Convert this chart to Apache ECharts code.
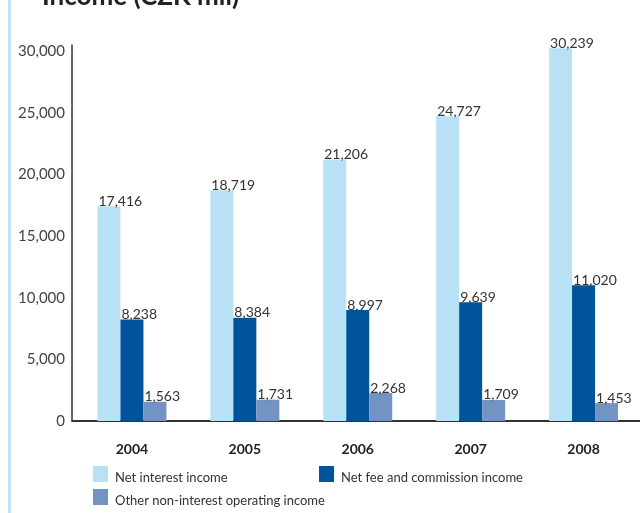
<!DOCTYPE html>
<html>
<head>
<meta charset="utf-8">
<style>
  html, body { margin: 0; padding: 0; background: #ffffff; }
  #chart { width: 640px; height: 513px; }
</style>
<script src="https://cdn.jsdelivr.net/npm/echarts@6/dist/echarts.min.js"></script>
</head>
<body>
<div id="chart"></div>
<script>
// Income breakdown, CZK million
const years = ['2004', '2005', '2006', '2007', '2008'];
const netInterestIncome = [17416, 18719, 21206, 24727, 30239];
const netFeeCommissionIncome = [8238, 8384, 8997, 9639, 11020];
const otherNonInterestIncome = [1563, 1731, 2268, 1709, 1453];
const seriesNames = ['Net interest income', 'Net fee and commission income', 'Other non-interest operating income'];
const yTicks = [0, 5000, 10000, 15000, 20000, 25000, 30000];

const FONT = 'Lato, "Liberation Sans", sans-serif';
const COLORS = ['#b9e1f6', '#00559a', '#7394c2'];

const fmt = v => Number(v).toLocaleString('en-US');

const chart = echarts.init(document.getElementById('chart'), null, { renderer: 'canvas' });

function barSeries(name, data, color) {
  return {
    name: name,
    type: 'bar',
    data: data,
    barWidth: 23,
    barGap: '0%',
    itemStyle: { color: color },
    label: {
      show: true,
      position: [1, 2],
      align: 'left',
      verticalAlign: 'bottom',
      fontFamily: FONT,
      fontSize: 14,
      color: '#333333',
      formatter: p => fmt(p.value)
    }
  };
}

function legendItem(name, left, top) {
  return {
    data: [{ name: name, icon: 'rect' }],
    left: left,
    top: top,
    padding: 0,
    itemWidth: 15,
    itemHeight: 16,
    itemGap: 0,
    formatter: n => '{t|' + n + '}',
    textStyle: {
      fontFamily: FONT,
      fontSize: 13,
      color: '#333333',
      rich: {
        t: { fontFamily: FONT, fontSize: 13, color: '#333333', padding: [8, 0, 0, 2] }
      }
    },
    selectedMode: false
  };
}

const option = {
  animation: false,
  title: {
    text: 'Income (CZK mil)',
    left: 42,
    top: -16,
    padding: 0,
    textStyle: { fontFamily: FONT, fontSize: 26, fontWeight: 'bold', color: '#222222' }
  },
  legend: [
    legendItem(seriesNames[0], 93, 466),
    legendItem(seriesNames[1], 319, 466),
    legendItem(seriesNames[2], 93, 489)
  ],
  grid: { left: 75.5, width: 570, top: 45, bottom: 92, containLabel: false },
  xAxis: {
    type: 'category',
    data: years,
    axisLine: { show: true, lineStyle: { color: '#333333', width: 2 } },
    axisTick: { show: false },
    axisLabel: {
      margin: 21,
      fontFamily: FONT,
      fontSize: 14,
      fontWeight: 'bold',
      color: '#222222'
    }
  },
  yAxis: {
    type: 'value',
    min: 0,
    max: 30500,
    interval: 5000,
    offset: 3.5,
    splitLine: { show: false },
    axisTick: { show: false },
    axisLine: { show: true, lineStyle: { color: '#333333', width: 1.5 } },
    axisLabel: {
      margin: 7,
      fontFamily: FONT,
      fontSize: 15,
      color: '#444444',
      padding: [0, 0, 6, 0],
      formatter: v => (yTicks.indexOf(v) >= 0 ? fmt(v) : '')
    }
  },
  graphic: [
    {
      type: 'rect',
      shape: { x: 8, y: 0, width: 3, height: 513 },
      style: { fill: '#bfe3f7' },
      silent: true
    },
    {
      type: 'line',
      shape: { x1: 71.5, y1: 421, x2: 76, y2: 421 },
      style: { stroke: '#333333', lineWidth: 2 },
      silent: true
    }
  ],
  series: [
    barSeries(seriesNames[0], netInterestIncome, COLORS[0]),
    barSeries(seriesNames[1], netFeeCommissionIncome, COLORS[1]),
    barSeries(seriesNames[2], otherNonInterestIncome, COLORS[2])
  ]
};

chart.setOption(option);
</script>
</body>
</html>
